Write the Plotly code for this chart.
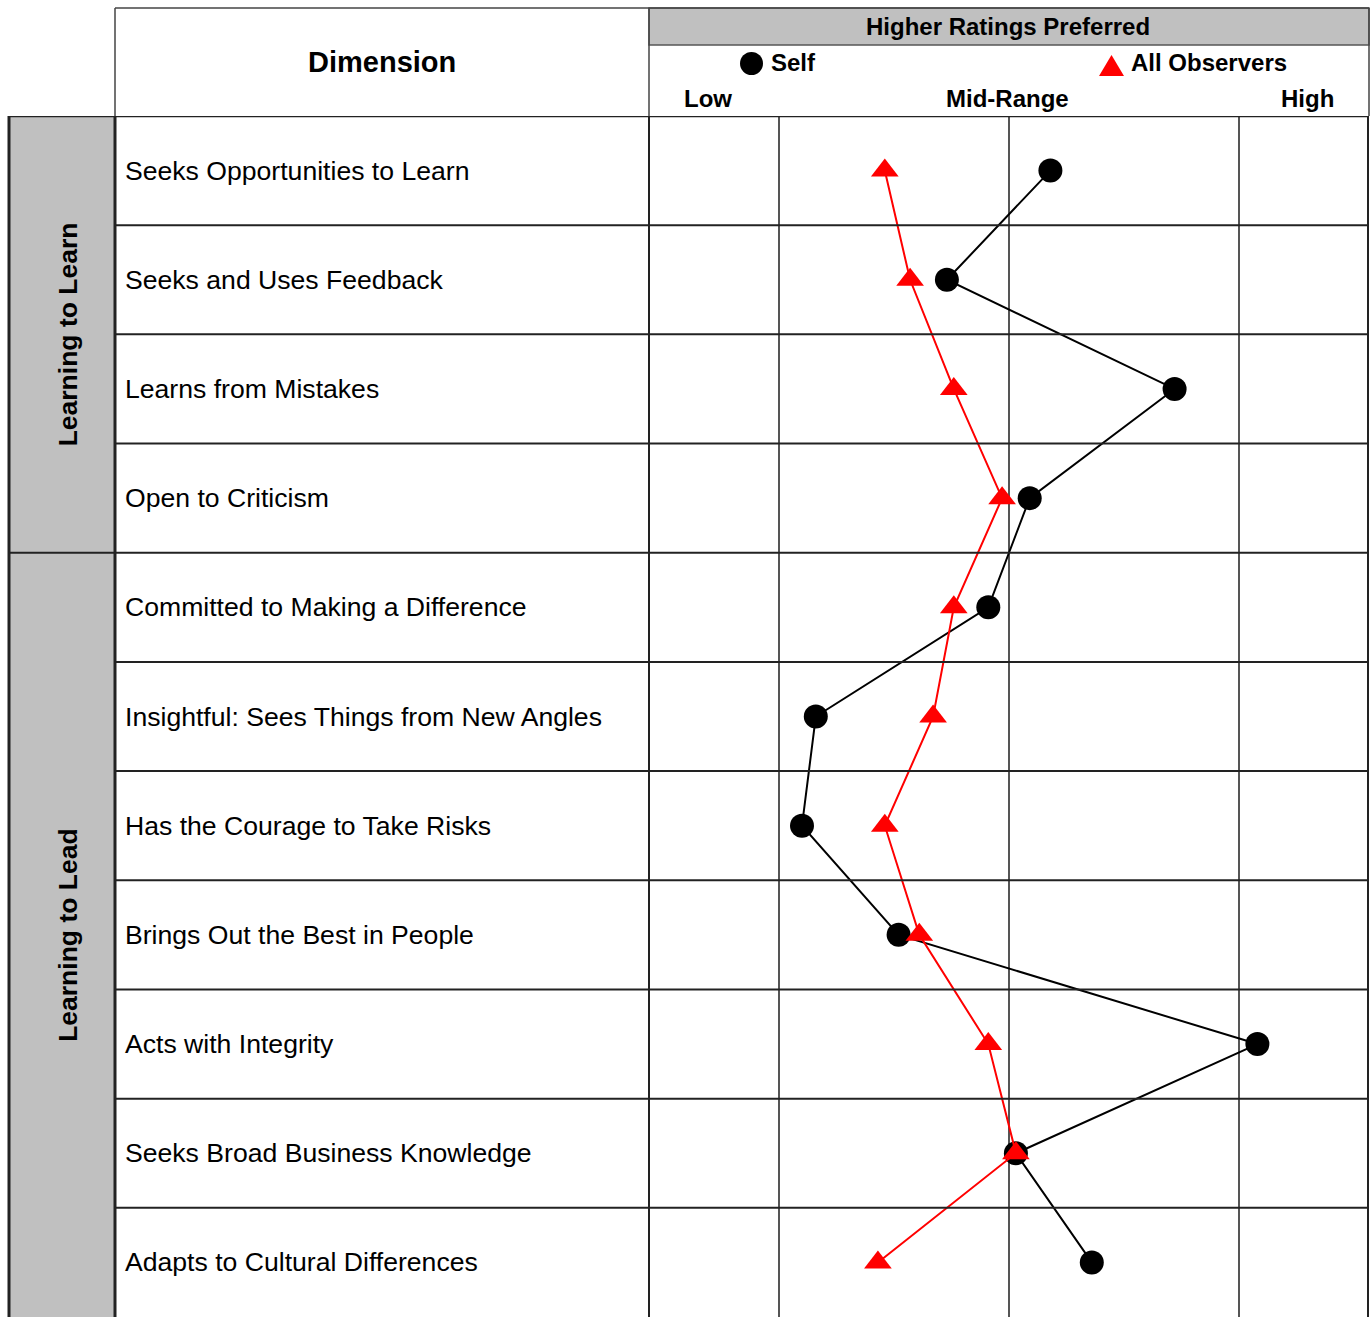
import plotly.graph_objects as go

# Survey dimensions, grouped by competency area
groups = ["Learning to Learn", "Learning to Lead"]
group_sizes = [4, 7]
dimensions = [
    "Seeks Opportunities to Learn",
    "Seeks and Uses Feedback",
    "Learns from Mistakes",
    "Open to Criticism",
    "Committed to Making a Difference",
    "Insightful: Sees Things from New Angles",
    "Has the Courage to Take Risks",
    "Brings Out the Best in People",
    "Acts with Integrity",
    "Seeks Broad Business Knowledge",
    "Adapts to Cultural Differences",
]
# Ratings (mid-range = 3)
self_scores = [3.18, 2.73, 3.72, 3.09, 2.91, 2.16, 2.10, 2.52, 4.08, 3.03, 3.36]
observer_scores = [2.46, 2.57, 2.76, 2.97, 2.76, 2.67, 2.46, 2.61, 2.91, 3.03, 2.43]
scale_labels = ["Low", "Mid-Range", "High"]

W, H = 1371, 1317
FONT = "Arial, Liberation Sans, sans-serif"


def px(x):
    return x / W


def py(y):
    return 1 - y / H


rows = list(range(len(dimensions)))
row_centers = [r + 0.5 for r in rows]

fig = go.Figure()
fig.add_trace(go.Scatter(
    x=self_scores, y=row_centers, mode="lines+markers", name="Self",
    line=dict(color="black", width=2),
    marker=dict(symbol="circle", size=24, color="black"),
    cliponaxis=False,
))
fig.add_trace(go.Scatter(
    x=observer_scores, y=row_centers, mode="lines+markers", name="All Observers",
    line=dict(color="#ff0000", width=2),
    marker=dict(symbol="triangle-up", size=24, color="#ff0000"),
    cliponaxis=False,
))

shapes = []
annotations = []
dark = "#222222"


def text(x, y, s, size, xanchor="center", bold=True, xref="paper", yref="paper", angle=0):
    annotations.append(dict(
        x=x, y=y, xref=xref, yref=yref, text=f"<b>{s}</b>" if bold else s,
        showarrow=False, xanchor=xanchor, yanchor="middle", textangle=angle,
        font=dict(family=FONT, size=size, color="black"),
    ))


# Group label column background
shapes.append(dict(type="rect", xref="paper", yref="y", x0=px(8), x1=px(115),
                   y0=0, y1=len(dimensions), fillcolor="#c0c0c0", line=dict(width=0),
                   layer="below"))
# Header band
shapes.append(dict(type="rect", xref="paper", yref="paper", x0=px(649), x1=px(1369),
                   y0=py(45), y1=py(8), fillcolor="#c0c0c0",
                   line=dict(color="#555555", width=1.5), layer="below"))
# Header outline
shapes.append(dict(type="line", xref="paper", yref="paper", x0=px(115), x1=px(1369),
                   y0=py(8), y1=py(8), line=dict(color="#444444", width=1.5)))
for xv in (115, 649, 1369):
    shapes.append(dict(type="line", xref="paper", yref="paper", x0=px(xv), x1=px(xv),
                       y0=py(8), y1=py(116), line=dict(color="#444444", width=1.5)))

# Row separators
group_edges = [0]
for s in group_sizes:
    group_edges.append(group_edges[-1] + s)
for r in range(len(dimensions)):
    x0 = px(8) if r in group_edges else px(115)
    shapes.append(dict(type="line", xref="paper", yref="y", x0=x0, x1=px(1369),
                       y0=r, y1=r, line=dict(color=dark, width=2.5 if r == 0 else 2)))

# Vertical borders of the table body
for xv, w in [(9, 3), (115, 3), (649, 2), (1368, 2)]:
    shapes.append(dict(type="line", xref="paper", yref="y", x0=px(xv), x1=px(xv),
                       y0=0, y1=len(dimensions), line=dict(color=dark, width=w)))

# Dimension labels
for r, name in zip(row_centers, dimensions):
    text(px(123), r, name, 26.6, xanchor="left", bold=False, yref="y")

# Group labels
for g, (a, b) in zip(groups, zip(group_edges[:-1], group_edges[1:])):
    text(px(68), (a + b) / 2, g, 26.5, yref="y", angle=-90)

# Header texts
text(px(382), py(62), "Dimension", 29)
text(px(1008), py(26), "Higher Ratings Preferred", 24)
for lbl, xc in zip(scale_labels, [708, 1007, 1307]):
    text(px(xc), py(98), lbl, 24)

# Legend keys
shapes.append(dict(type="circle", xref="paper", yref="paper", x0=px(740), x1=px(763),
                   y0=py(75), y1=py(52), fillcolor="black", line=dict(width=0)))
shapes.append(dict(type="path", xref="paper", yref="paper",
                   path=f"M {px(1099)} {py(76)} L {px(1124)} {py(76)} L {px(1111.5)} {py(55)} Z",
                   fillcolor="#ff0000", line=dict(width=0)))
text(px(769), py(63), "Self", 24, xanchor="left")
text(px(1129), py(63), "All Observers", 24, xanchor="left")

half_span = 360 / 230
fig.update_layout(
    width=W, height=H, autosize=False,
    margin=dict(l=0, r=0, t=0, b=0),
    paper_bgcolor="white", plot_bgcolor="white",
    showlegend=False,
    xaxis=dict(domain=[px(649), px(1369)], range=[3 - half_span, 3 + half_span],
               tickvals=[2, 3, 4], showticklabels=False, ticks="",
               showgrid=True, gridcolor="#555555", gridwidth=1.5,
               zeroline=False, showline=False, fixedrange=True),
    yaxis=dict(domain=[0, py(116)], range=[len(dimensions), 0],
               showgrid=False, showticklabels=False, ticks="",
               zeroline=False, showline=False, fixedrange=True),
    shapes=shapes,
    annotations=annotations,
)

fig.write_html("out.html")
